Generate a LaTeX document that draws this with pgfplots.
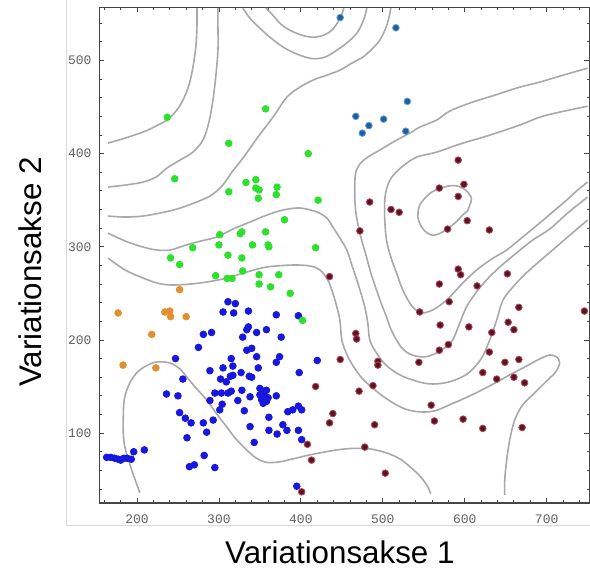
\documentclass[border=0pt]{standalone}
\usepackage{pgfplots}
\pgfplotsset{compat=1.18}
\usepackage{fontspec}
\setmainfont{Liberation Sans}
\newfontfamily\tickfont{Liberation Mono}

\definecolor{contourgray}{HTML}{A8A8A8}
\definecolor{framegray}{HTML}{454545}
\definecolor{tickgray}{HTML}{606060}
\definecolor{bordergray}{HTML}{DADADA}
\definecolor{ptblue}{HTML}{1717DE}
\definecolor{ptgreen}{HTML}{2EE02E}
\definecolor{ptorange}{HTML}{E2902F}
\definecolor{ptsteel}{HTML}{235C98}
\definecolor{ptsteelrim}{HTML}{5C9CD8}
\definecolor{ptred}{HTML}{5A1424}
\definecolor{ptredrim}{HTML}{B04858}

\pgfplotsset{
  contour/.style={contourgray, line width=0.95pt, smooth, tension=0.55, no markers},
  grp/.style 2 args={only marks, mark=*, mark size=2pt,
    mark options={fill=#1, draw=#2, line width=0.5pt}},
}

\begin{document}
\begin{tikzpicture}
\path[use as bounding box] (-59.58pt,-41.4pt) rectangle (294.42pt,301.8pt);
\draw[bordergray, line width=0.6pt] (-19.4pt,301.8pt) -- (-19.4pt,-13.8pt) -- (294.42pt,-13.8pt);
\begin{axis}[
  at={(0,0)}, anchor=south west,
  width=294pt, height=297.42pt, scale only axis,
  xmin=154, xmax=752, ymin=25, ymax=557,
  xtick={200,300,...,700}, ytick={100,200,...,500},
  minor xtick={160,180,220,240,260,280,320,340,360,380,420,440,460,480,520,540,560,580,620,640,660,680,720,740},
  minor ytick={40,60,80,120,140,160,180,220,240,260,280,320,340,360,380,420,440,460,480,520,540},
  tick align=inside, tick pos=both,
  xticklabel pos=lower, yticklabel pos=left,
  major tick length=3pt, minor tick length=1.6pt,
  every tick/.style={framegray, line width=0.5pt},
  axis line style={framegray, line width=0.7pt},
  /pgf/number format/assume math mode=true,
  xticklabel style={font=\tickfont\fontsize{7.8}{9}\selectfont, text=tickgray, yshift=-3.5pt},
  yticklabel style={font=\tickfont\fontsize{7.8}{9}\selectfont, text=tickgray, xshift=-1.2pt},
  xlabel={Variationsakse 1}, ylabel={Variationsakse 2},
  xlabel style={at={(axis description cs:0.491,-0.0989)}, anchor=center,
    font=\fontsize{18.8}{22}\selectfont},
  ylabel style={at={(axis description cs:-0.1415,0.466)}, anchor=center,
    font=\fontsize{18.8}{22}\selectfont},
  clip mode=individual,
]

% contour lines of the density surface
\addplot[contour] coordinates {(164.6,411.3) (185.4,416.6) (207.3,423.1) (223.2,429.5) (236.2,435.9) (247.6,445.6) (256.1,457.4) (263.4,473.5) (268.3,492.8) (272,516.4) (273.2,537.8) (273.2,556)};
\addplot[contour] coordinates {(164.6,364.1) (185.4,366.2) (207.3,369.4) (223.2,374.8) (236.6,384.5) (252.4,393) (268.3,401.6) (280.5,414.5) (287.8,433.8) (292.7,457.4) (296.3,484.2) (298.8,511) (298.8,537.8) (298.8,556)};
\addplot[contour] coordinates {(164.6,333) (185.4,331.9) (207.3,333) (228,336.2) (248.8,340.5) (269.5,346.9) (289,354.4) (303.7,365.1) (315.9,380.2) (329.3,395.2) (347.6,417.7) (365.9,439.1) (383,460.6) (398.8,471.3) (414.6,478.8) (431.7,484.2) (447.6,489.5) (462.2,497.1) (475.6,503.5) (486.6,512.1) (496.3,521.7) (503.6,534.6) (507.3,545.3) (509.8,556)};
\addplot[contour] coordinates {(329.3,556) (337.8,545.3) (350,534.6) (362.2,524.9) (380.5,513.1) (398.8,505.6) (414.6,501.9) (429.3,503.5) (443.9,511) (457.3,519.6) (468.3,529.2) (474.4,538.9) (478,547.5) (480.5,556)};
\addplot[contour] coordinates {(357.3,556) (365.9,548.5) (375.6,538.9) (386.6,532.4) (401.2,527.1) (414.6,524.9) (428,527.1) (437.8,532.4) (445.1,541) (450,549.6) (452.4,556)};
\addplot[contour] coordinates {(750,491.7) (715.8,483.1) (691.5,476.7) (667.1,471.3) (636.6,462.7) (606.1,454.2) (581.7,445.6) (565.5,435.9) (545.1,428.4) (532.9,422) (514.6,413.4) (496.3,403.8) (481.7,396.3) (471.9,388.7) (467.1,380.2) (465.9,369.4) (465.9,350.1) (468,331.9) (473.2,310.5) (480.1,289) (485.4,271.9) (492.3,253.6) (498.8,237.5) (504.5,224.7) (509.8,211.8) (516.7,200) (524.4,190.3) (535.4,183.9) (551.2,181.8) (565.9,186.1) (576.8,192.5) (585.4,200) (593.9,218.2) (602.1,235.4) (613.4,250.4) (626.5,264.3) (642.7,278.3) (663.1,293.3) (682.9,307.2) (703.7,319) (725.6,336.2) (750,353.4)};
\addplot[contour] coordinates {(750,450.9) (715.8,444.5) (691.5,439.1) (667.1,430.6) (630.5,419.8) (593.9,410.2) (565.9,401.6) (541.5,396.3) (524.4,386.6) (511,374.8) (504.9,363) (502.4,350.1) (502.4,328.7) (504.5,307.2) (509.8,289) (516.7,271.9) (524.4,253.6) (532.9,239.7) (540.2,232.2) (548.8,229) (561,232.2) (572,238.6) (581.7,246.1) (597.6,261.1) (614.6,275.1) (632.9,286.9) (651.2,296.5) (670.7,310.5) (691.5,325.5) (708.5,338.3) (724.4,350.1) (737.8,360.9) (750,369.4)};
\addplot[contour] coordinates {(164.6,314.7) (185.4,306.2) (207.3,299.7) (224.4,296.5) (240.2,296.5) (256.1,300.8) (268.3,304) (282.9,307.2) (297.6,310.5) (317.1,319) (337.8,326.5) (358.5,334) (378,339.4) (398.8,341.6) (419.5,337.3) (431.7,330.8) (439,321.2) (447.6,309.4) (456.1,296.5) (462.2,280.4) (468.3,264.3) (473.2,250.4) (478,235.4) (481.7,218.2) (484.1,200) (491.5,187.1) (503.6,173.2) (520.7,162.5) (540.2,156) (557.3,152.8) (575.6,153.9) (591.5,158.2) (606.1,165.7) (620.7,180.7) (630.5,200) (639,221.4) (646.7,242.9) (661,259) (675.2,271.9) (691.5,284.7) (707.3,296.5) (725.6,310.5) (750,328.7)};
\addplot[contour] coordinates {(164.6,287.9) (185.4,275.1) (207.3,266.5) (224.4,261.1) (240.2,259) (258.5,259.5) (276.8,261.1) (292.7,263.3) (309.8,266.5) (334.1,272.9) (358.5,278.3) (390.2,280.4) (411,279.4) (423.2,275.1) (432.9,264.3) (439,250.4) (443.9,235.4) (447.6,221.4) (450,200) (454.9,187.1) (462.2,174.3) (474.4,159.2) (490.2,146.4) (508.5,134.6) (526.8,126) (545.1,122.8) (563.4,123.9) (584.1,131.4) (606.1,139.9) (630.5,150.7) (654.9,162.5) (675.6,172.1) (691.5,179.6) (703.7,183.9) (712.2,181.8) (715.8,175.3) (711,165.7) (700,156) (685.4,143.2) (670.7,130.3) (661,114.2) (654.9,92.8) (651.2,71.3) (648.8,49.9) (648.8,33.8)};
\addplot[contour] coordinates {(203.5,35.9) (193.5,60.6) (186,82) (183.5,96) (183.2,114.2) (184.4,135.7) (190,151.7) (199.6,164.6) (211,172.1) (224,176.4) (240.2,175.3) (252.4,168.9) (260.6,160.3) (272,148.5) (285,135.7) (296.3,121.7) (309.4,106.7) (320.7,93.8) (333.8,82) (345.1,73.5) (358.2,68.6) (374.4,69.2) (390.6,72.4) (411,76.7) (423.2,78.8) (443.9,82) (463.4,83.6) (484.1,83.1) (504.5,78.8) (520.7,72.4) (532.9,64.1) (542.7,56.3) (549.1,49.9) (554.9,42.4) (558.5,35)};
\addplot[contour, smooth cycle] coordinates {(569.5,362.7) (584.1,365.7) (593.9,364.4) (602.4,359.8) (608.2,352) (606.1,344.8) (604,339.4) (596.3,333) (589.9,326.9) (581.7,321.2) (573.5,316.1) (565.9,313.1) (559.4,312.6) (551.2,316.9) (545.1,325.1) (542.7,331.9) (543.1,337.6) (545.1,344.8) (551.2,352) (559.8,358.7)};

% group 1
\addplot[grp={ptblue}{ptblue}] coordinates {
(311,241) (320,239) (305,230) (318,229) (336,231) (370,227) (397,226) (281,206) (291,208)
(336,214) (334,211) (346,208) (358,211) (329,203) (376,203) (275,192) (334,189) (340,191)
(346,182) (374,182) (370,176) (247,180) (315,180) (317,172) (348,170) (420,178) (289,167)
(305,170) (327,165) (337,161) (340,160) (398,165) (256,158) (302,158) (309,155) (314,161)
(317,162) (328,146) (236,142) (250,140) (295,143) (303,143) (311,143) (315,145) (350,148)
(354,145) (358,146) (350,141) (356,139) (360,138) (354,132) (358,134) (352,136) (370,140)
(338,139) (323,135) (289,135) (304,131) (301,125) (331,124) (384,123) (390,125) (397,129)
(401,125) (252,122) (259,116) (266,111) (281,111) (293,114) (361,117) (338,107) (378,109)
(383,103) (285,101) (361,103) (371,99) (397,103) (261,95) (401,93) (343,90) (163,74)
(168,74) (173,73) (177,72) (180,71) (184,73) (188,73) (193,72) (196,80) (209,82) (264,64)
(270,66) (282,76) (295,63) (395,43)};

% group 2
\addplot[grp={ptgreen}{ptgreen}] coordinates {
(237,439) (357,448) (312,411) (409,400) (246,373) (333,369) (345,372) (312,359) (345,363)
(349,361) (348,352) (371,364) (370,356) (421,350) (380,329) (301,313) (328,316) (326,314)
(357,316) (268,299) (300,302) (341,302) (360,302) (361,300) (418,299) (241,288) (252,281)
(311,291) (328,288) (329,274) (296,269) (310,266) (316,266) (349,270) (373,270) (349,260)
(363,257) (387,250) (402,221)};

% group 3
\addplot[grp={ptorange}{ptorange}] coordinates {
(252,254) (177,229) (234,230) (240,231) (241,225) (260,225) (218,206) (183,173) (223,170)};

% group 4
\addplot[grp={ptsteel}{ptsteelrim}] coordinates {
(448,546) (516,535) (530,456) (467,440) (501,437) (483,430) (475,422) (528,424)};

% group 5
\addplot[grp={ptred}{ptredrim}] coordinates {
(592,393) (569,363) (599,367) (592,354) (484,348) (510,340) (520,337) (472,317) (603,328)
(579,319) (630,318) (435,268) (592,276) (595,270) (569,260) (652,271) (615,258) (581,241)
(545,230) (666,235) (746,231) (467,207) (468,201) (570,216) (605,214) (653,219) (660,211)
(633,208) (580,195) (569,189) (630,187) (448,179) (494,177) (494,173) (544,176) (649,176)
(666,179) (622,165) (639,158) (660,160) (673,154) (471,145) (488,151) (439,121) (435,111)
(490,109) (559,130) (563,113) (598,115) (622,105) (670,106) (478,85) (503,57) (418,150)
(408,88) (413,71) (401,37)};

\end{axis}
\end{tikzpicture}
\end{document}
